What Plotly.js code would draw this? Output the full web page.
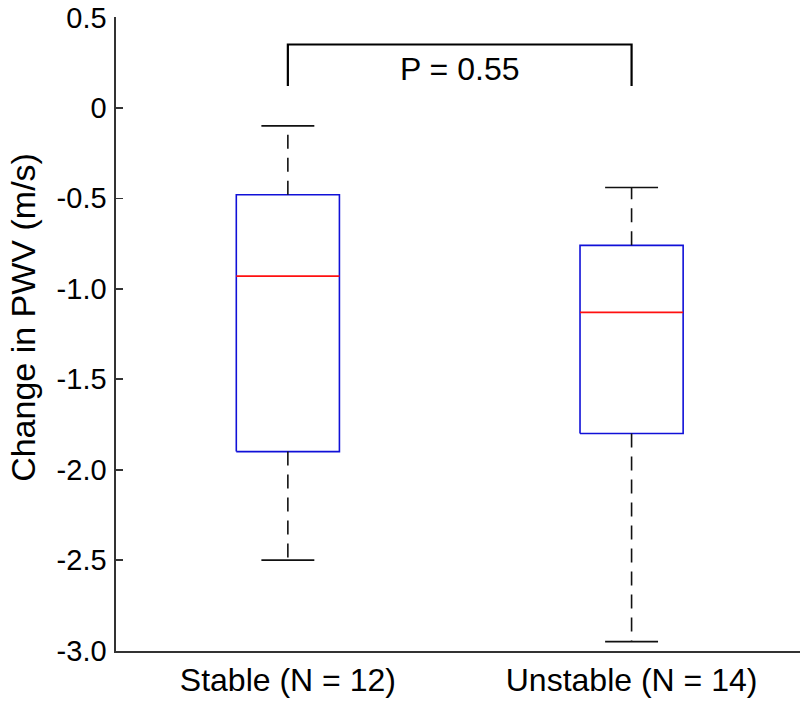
<!DOCTYPE html>
<html>
<head>
<meta charset="utf-8">
<script src="https://cdn.plot.ly/plotly-3.0.1.min.js"></script>
<style>html,body{margin:0;padding:0;background:#fff;}#chart{width:800px;height:701px;}</style>
</head>
<body>
<div id="chart"></div>
<script>
const categories = ['Stable (N = 12)', 'Unstable (N = 14)'];
const q1 = [-1.90, -1.80];
const medians = [-0.93, -1.13];
const q3 = [-0.48, -0.76];
const lowerWhisker = [-2.50, -2.95];
const upperWhisker = [-0.10, -0.44];
const bracketLow = 0.12;
const bracketHigh = 0.35;
const pLabel = 'P = 0.55';
const pLabelY = 0.20;
const yTitle = 'Change in PWV (m/s)';
const yTicks = [0.5, 0, -0.5, -1.0, -1.5, -2.0, -2.5, -3.0];
const yTickText = ['0.5', '0', '-0.5', '-1.0', '-1.5', '-2.0', '-2.5', '-3.0'];

const pos = categories.map((c, i) => i);
const boxHalf = 0.15;
const capHalf = 0.077;

const traces = [];
// boxes (Q1..Q3 rectangles)
const bx = [], by = [];
pos.forEach((p, i) => {
  bx.push(p - boxHalf, p + boxHalf, p + boxHalf, p - boxHalf, p - boxHalf, null);
  by.push(q1[i], q1[i], q3[i], q3[i], q1[i], null);
});
traces.push({type: 'scatter', mode: 'lines', x: bx, y: by,
  line: {color: '#1010d8', width: 1.6}, showlegend: false, hoverinfo: 'skip'});
// whiskers
const wx = [], wy = [];
pos.forEach((p, i) => {
  wx.push(p, p, null, p, p, null);
  wy.push(q3[i], upperWhisker[i], null, q1[i], lowerWhisker[i], null);
});
traces.push({type: 'scatter', mode: 'lines', x: wx, y: wy,
  line: {color: '#111', width: 1.6, dash: '14px,9px'}, showlegend: false, hoverinfo: 'skip'});
// caps
const cx = [], cy = [];
pos.forEach((p, i) => {
  cx.push(p - capHalf, p + capHalf, null, p - capHalf, p + capHalf, null);
  cy.push(upperWhisker[i], upperWhisker[i], null, lowerWhisker[i], lowerWhisker[i], null);
});
traces.push({type: 'scatter', mode: 'lines', x: cx, y: cy,
  line: {color: '#111', width: 1.6}, showlegend: false, hoverinfo: 'skip'});
// medians
const mx = [], my = [];
pos.forEach((p, i) => {
  mx.push(p - boxHalf, p + boxHalf, null);
  my.push(medians[i], medians[i], null);
});
traces.push({type: 'scatter', mode: 'lines', x: mx, y: my,
  line: {color: '#ff1010', width: 1.8}, showlegend: false, hoverinfo: 'skip'});
// significance bracket
traces.push({type: 'scatter', mode: 'lines',
  x: [pos[0], pos[0], pos[1], pos[1]],
  y: [bracketLow, bracketHigh, bracketHigh, bracketLow],
  line: {color: '#000', width: 2.2}, showlegend: false, hoverinfo: 'skip'});
traces.push({type: 'scatter', mode: 'text',
  x: [(pos[0] + pos[1]) / 2], y: [pLabelY],
  text: [pLabel], textposition: 'middle center',
  textfont: {family: 'Liberation Sans, Arial, sans-serif', size: 32, color: '#000'},
  showlegend: false, hoverinfo: 'skip', cliponaxis: false});

const layout = {
  width: 800, height: 701,
  margin: {l: 116, r: 0, t: 17, b: 50},
  paper_bgcolor: '#fff', plot_bgcolor: '#fff',
  showlegend: false,
  font: {family: 'Liberation Sans, Arial, sans-serif', color: '#000'},
  xaxis: {
    range: [-0.5, 1.49], tickvals: pos, ticktext: categories,
    showgrid: false, zeroline: false, showline: true, linecolor: '#333', linewidth: 1.6,
    ticks: '', tickfont: {size: 32}, fixedrange: true
  },
  yaxis: {
    range: [-3.002, 0.502], tickvals: yTicks, ticktext: yTickText,
    showgrid: false, zeroline: false, showline: true, linecolor: '#333', linewidth: 1.6,
    ticks: 'inside', ticklen: 7, tickwidth: 1.6, tickcolor: '#333',
    tickfont: {size: 29}, ticklabelstandoff: 2,
    fixedrange: true
  },
  annotations: [{
    text: yTitle, textangle: -90, showarrow: false,
    xref: 'paper', yref: 'paper', x: -0.136, y: 0.527,
    xanchor: 'center', yanchor: 'middle',
    font: {family: 'Liberation Sans, Arial, sans-serif', size: 34, color: '#000'}
  }]
};
Plotly.newPlot('chart', traces, layout, {displayModeBar: false, staticPlot: true});
</script>
</body>
</html>
